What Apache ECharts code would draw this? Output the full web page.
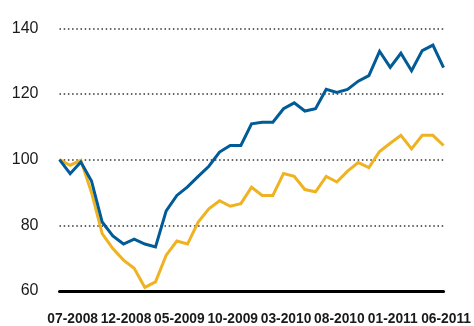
<!DOCTYPE html>
<html>
<head>
<meta charset="utf-8">
<script src="https://cdn.jsdelivr.net/npm/echarts@6/dist/echarts.min.js"></script>
<style>
  html, body { margin: 0; padding: 0; background: #fff; }
  #chart { width: 474px; height: 326px; }
</style>
</head>
<body>
<div id="chart"></div>
<script>
// Monthly index, 06-2008 .. 06-2011 (06-2008 = 100)
const months = [
  '06-2008','07-2008','08-2008','09-2008','10-2008','11-2008','12-2008',
  '01-2009','02-2009','03-2009','04-2009','05-2009','06-2009','07-2009',
  '08-2009','09-2009','10-2009','11-2009','12-2009','01-2010','02-2010',
  '03-2010','04-2010','05-2010','06-2010','07-2010','08-2010','09-2010',
  '10-2010','11-2010','12-2010','01-2011','02-2011','03-2011','04-2011',
  '05-2011','06-2011'
];

// Month labels written under the axis
const tickLabels = ['07-2008','12-2008','05-2009','10-2009','03-2010','08-2010','01-2011','06-2011'];

const blueSeries = [
  100.0, 95.7, 99.3, 93.5, 81.0, 76.8, 74.3, 75.8, 74.3, 73.4,
  84.4, 89.1, 91.7, 94.9, 98.0, 102.3, 104.3, 104.3, 110.9, 111.4,
  111.4, 115.5, 117.3, 114.8, 115.5, 121.4, 120.5, 121.4, 123.9, 125.6,
  133.0, 128.1, 132.4, 127.1, 133.2, 134.9, 128.0
];

const goldSeries = [
  100.0, 98.3, 99.8, 90.0, 77.5, 72.9, 69.4, 66.9, 61.1, 62.8,
  70.9, 75.2, 74.3, 81.0, 85.0, 87.5, 85.8, 86.6, 91.6, 89.1,
  89.1, 95.8, 94.9, 90.9, 90.2, 94.9, 93.2, 96.5, 99.1, 97.6,
  102.5, 105.0, 107.4, 103.3, 107.4, 107.4, 104.3
];

const yTicks = { min: 60, max: 140, step: 20 };

const labelFont = "'Liberation Sans', Arial, sans-serif";

const chart = echarts.init(document.getElementById('chart'), null, { renderer: 'canvas' });

chart.setOption({
  animation: false,
  backgroundColor: '#ffffff',
  grid: { left: 59.5, right: 26, top: 28.3, bottom: 34.3, containLabel: false },
  xAxis: {
    type: 'category',
    data: months,
    boundaryGap: false,
    axisLine: { show: true, lineStyle: { color: '#000', width: 3 } },
    axisTick: { show: false },
    axisLabel: {
      interval: 0,
      hideOverlap: false,
      showMinLabel: true,
      showMaxLabel: true,
      formatter: function (value) {
        return tickLabels.indexOf(value) >= 0 ? value : '';
      },
      margin: 21,
      fontFamily: labelFont,
      fontWeight: 'bold',
      fontSize: 13.8,
      color: '#1a1a1a',
      padding: [0, 0, 0, 5]
    },
    splitLine: { show: false }
  },
  yAxis: {
    type: 'value',
    min: yTicks.min,
    max: yTicks.max,
    interval: yTicks.step,
    axisLine: { show: false },
    axisTick: { show: false },
    axisLabel: {
      margin: 21,
      fontFamily: labelFont,
      fontSize: 16,
      color: '#1a1a1a'
    },
    splitLine: {
      show: true,
      lineStyle: { color: '#333', width: 1.5, type: [1.5, 2.7] }
    }
  },
  series: [
    {
      name: 'blue',
      type: 'line',
      data: blueSeries,
      symbol: 'none',
      lineStyle: { color: '#005b97', width: 3, join: 'miter' },
      z: 3
    },
    {
      name: 'gold',
      type: 'line',
      data: goldSeries,
      symbol: 'none',
      lineStyle: { color: '#efb321', width: 3, join: 'miter' },
      z: 2
    }
  ]
});
</script>
</body>
</html>
